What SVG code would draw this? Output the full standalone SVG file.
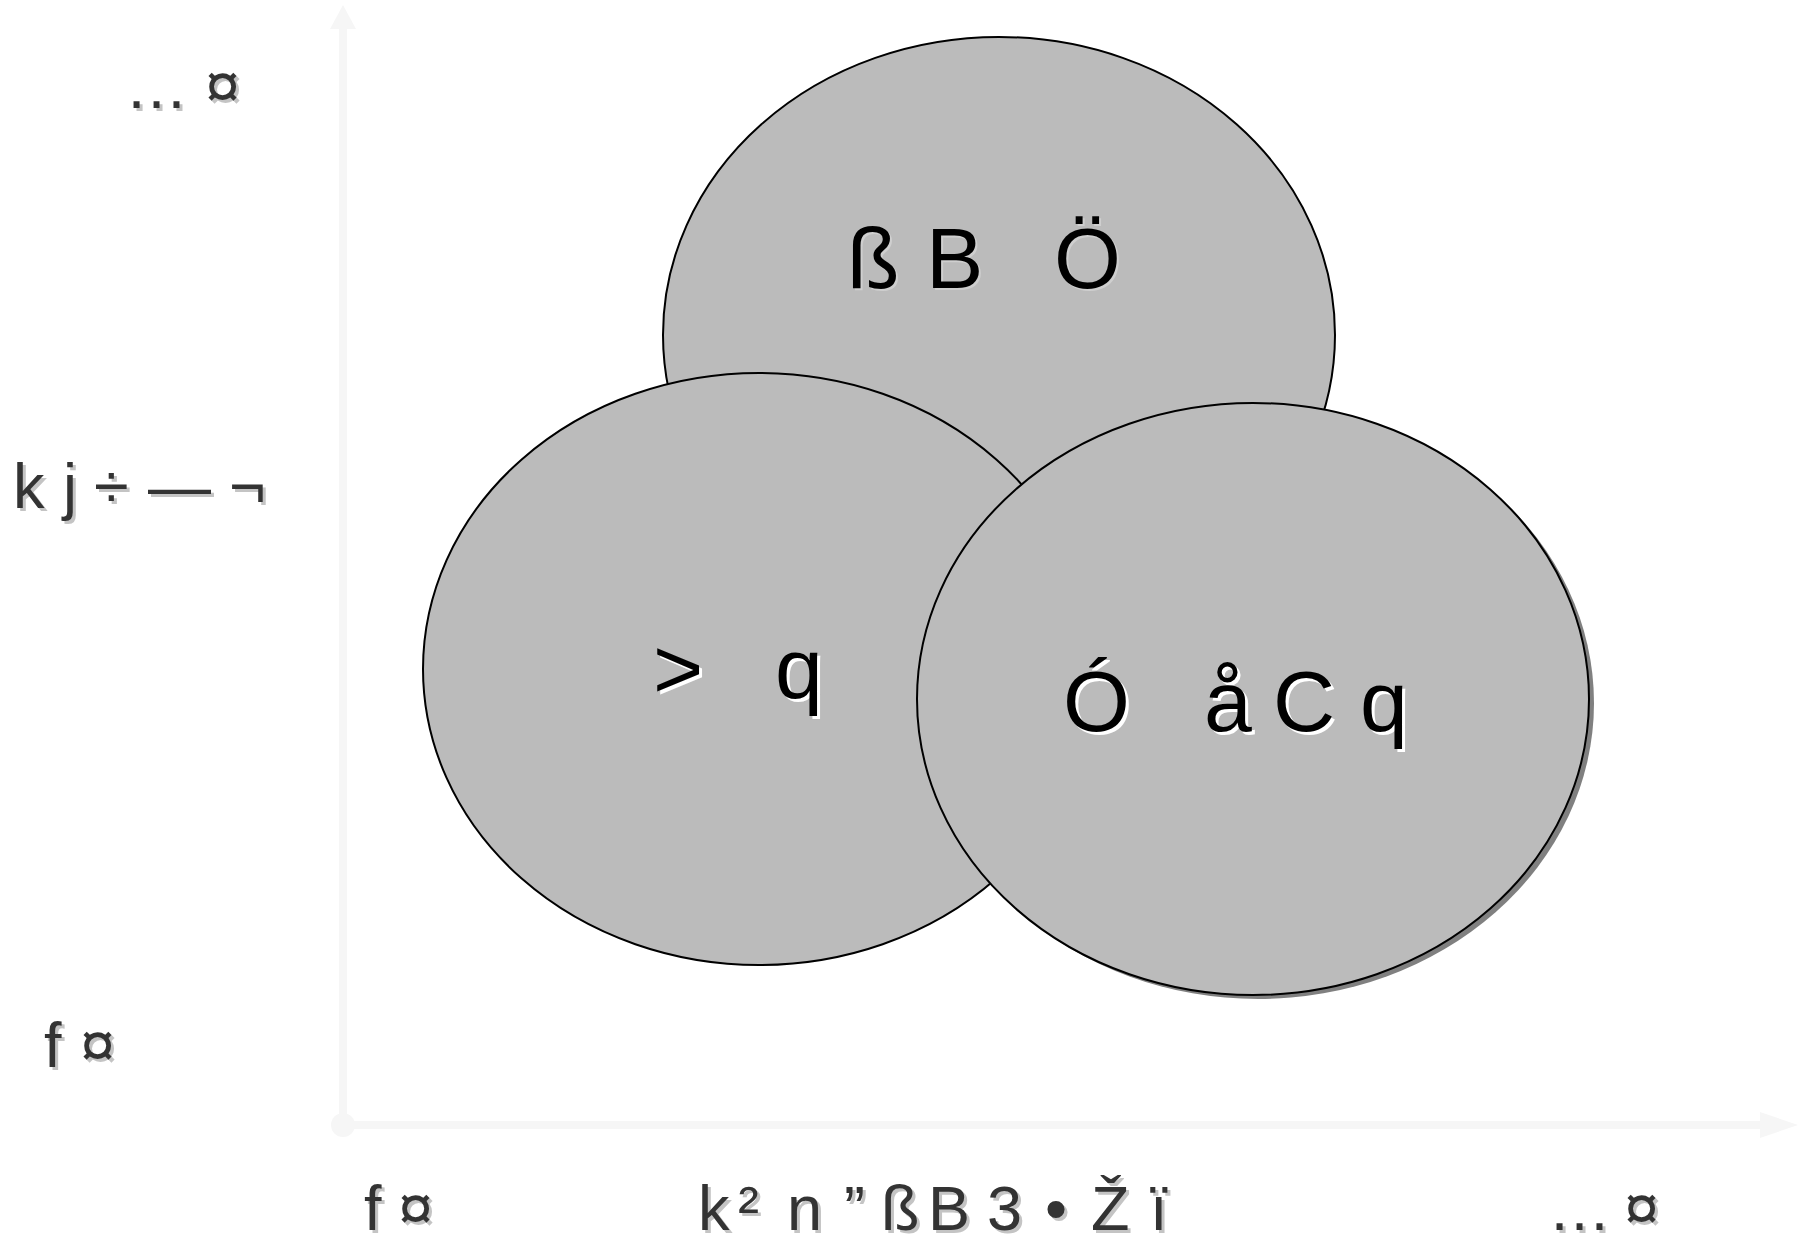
<svg xmlns="http://www.w3.org/2000/svg" width="1803" height="1238" viewBox="0 0 1803 1238">
<style>
.ell{fill:#bbbbbb;stroke:#000;stroke-width:2}
.axis{stroke:#f6f6f6;stroke-width:8;fill:none}
.axhead{fill:#f6f6f6}
.lbl{font-family:"Liberation Sans",Arial,sans-serif;font-size:63px;fill:#333333}
.lbls{font-family:"Liberation Sans",Arial,sans-serif;font-size:63px;fill:#c4c4c4}
.in{font-family:"Liberation Sans",Arial,sans-serif;font-size:86px;fill:#000}
.ins{font-family:"Liberation Sans",Arial,sans-serif;font-size:86px;fill:#fff}
</style>
<rect width="1803" height="1238" fill="#fff"/>
<g id="connectors">
<line class="axis" x1="343" y1="1125" x2="343" y2="26"/>
<polygon class="axhead" points="343,5 356,29 330,29"/>
<line class="axis" x1="343" y1="1125" x2="1762" y2="1125"/>
<polygon class="axhead" points="1798,1125 1760,1112 1760,1138"/>
<circle class="axhead" cx="343" cy="1125" r="12"/>
</g>
<g id="axis-labels">
<text class="lbls" x="128 170 208" y="111">… ¤</text>
<text class="lbl" x="125 167 205" y="108">… ¤</text>
<text class="lbls" x="16 50 66 85 97 130 151 200 232" y="511">k j ÷ — ¬</text>
<text class="lbl" x="13 47 63 82 94 127 148 197 229" y="508">k j ÷ — ¬</text>
<text class="lbls" x="47 68 83" y="1070">f ¤</text>
<text class="lbl" x="44 65 80" y="1067">f ¤</text>
<text class="lbls" x="367 385 401" y="1233">f ¤</text>
<text class="lbl" x="364 382 398" y="1230">f ¤</text>
<text class="lbls" x="701 725 741 770 790 820 847 870 884 910 931 965 990 1025 1048 1074 1094 1135 1153" y="1233">k ² n ” ß B 3 • Ž ï</text>
<text class="lbl" x="698 722 738 767 787 817 844 867 881 907 928 962 987 1022 1045 1071 1091 1132 1150" y="1230">k ² n ” ß B 3 • Ž ï</text>
<text class="lbls" x="1551 1600 1627" y="1233">… ¤</text>
<text class="lbl" x="1548 1597 1624" y="1230">… ¤</text>
</g>
<g id="node-top">
<ellipse class="ell" cx="999" cy="335" rx="336" ry="298"/>
<text class="in" x="849 900 928 1000 1056" y="290" style="fill:#cfcfcf">ß B Ö</text>
<text class="in" x="847 900 926 1000 1054" y="288">ß B Ö</text>
</g>
<g id="node-left">
<ellipse class="ell" cx="759" cy="669" rx="336" ry="296"/>
<text class="ins" x="656 720 778" y="701">&gt; q</text>
<text class="in" x="653 720 775" y="698">&gt; q</text>
</g>
<g id="node-right">
<ellipse cx="1258" cy="703" rx="336" ry="296" fill="#808080"/>
<ellipse class="ell" cx="1253" cy="699" rx="336" ry="296"/>
<text class="ins" x="1066 1150 1207 1276 1363" y="734">Ó åCq</text>
<text class="in" x="1063 1150 1204 1273 1360" y="731">Ó åCq</text>
</g>
</svg>
